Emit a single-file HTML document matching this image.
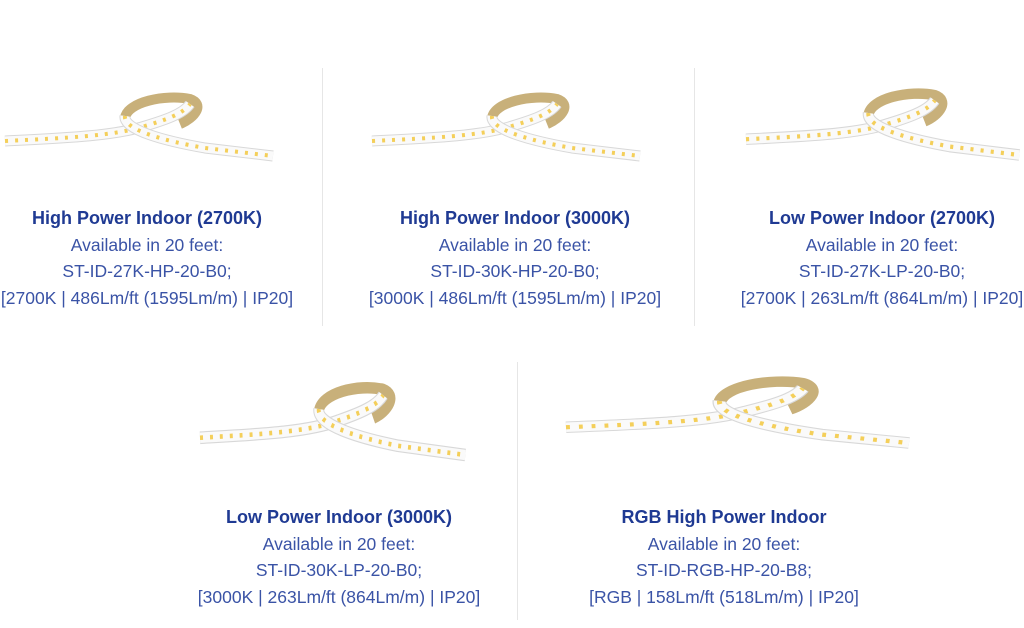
<!DOCTYPE html>
<html><head><meta charset="utf-8"><style>
html,body{margin:0;padding:0;background:#fff;}
body{width:1024px;height:628px;position:relative;overflow:hidden;font-family:"Liberation Sans",sans-serif;}
.vl{position:absolute;width:1px;background:#e6e6e6;}
.blk{position:absolute;width:400px;text-align:center;color:#3a53a6;font-size:17.5px;line-height:26.7px;}
.blk b{color:#1f3a93;font-size:18px;}
svg{position:absolute;left:0;top:0;}
</style></head><body>
<div class="vl" style="left:322px;top:68px;height:258px"></div>
<div class="vl" style="left:694px;top:68px;height:258px"></div>
<div class="vl" style="left:517px;top:362px;height:258px"></div>

<svg width="1024" height="628">
<defs>
<g id="strip">
 <path d="M120,22 C122,6 160,-2 185,3 C200,8 190,22 175,28" fill="none" stroke="#c8b07a" stroke-width="10"/>
 <path d="M0,45 C60,42 110,40 140,30 C160,24 178,18 185,8" fill="none" stroke="#d8d8d8" stroke-width="11"/>
 <path d="M0,45 C60,42 110,40 140,30 C160,24 178,18 185,8" fill="none" stroke="#fafafa" stroke-width="9"/>
 <path d="M0,45 C60,42 110,40 140,30 C160,24 178,18 185,8" fill="none" stroke="#f4cf5a" stroke-width="4" stroke-dasharray="3 7"/>
 <path d="M120,20 C118,34 160,45 200,52 L268,60" fill="none" stroke="#d8d8d8" stroke-width="11"/>
 <path d="M120,20 C118,34 160,45 200,52 L268,60" fill="none" stroke="#fafafa" stroke-width="9"/>
 <path d="M120,20 C118,34 160,45 200,52 L268,60" fill="none" stroke="#f4cf5a" stroke-width="4" stroke-dasharray="3 7"/>
</g>
</defs>
<use href="#strip" transform="translate(5,96)"/>
<use href="#strip" transform="translate(372,96)"/>
<use href="#strip" transform="translate(746,92) scale(1.02,1.05)"/>
<use href="#strip" transform="translate(200,386) scale(0.99,1.15)"/>
<use href="#strip" transform="translate(566,380) scale(1.28,1.05)"/>
</svg>

<div class="blk" style="left:-53px;top:205px"><b>High Power Indoor (2700K)</b><br>Available in 20 feet:<br>ST-ID-27K-HP-20-B0;<br>[2700K | 486Lm/ft (1595Lm/m) | IP20]</div>
<div class="blk" style="left:315px;top:205px"><b>High Power Indoor (3000K)</b><br>Available in 20 feet:<br>ST-ID-30K-HP-20-B0;<br>[3000K | 486Lm/ft (1595Lm/m) | IP20]</div>
<div class="blk" style="left:682px;top:205px"><b>Low Power Indoor (2700K)</b><br>Available in 20 feet:<br>ST-ID-27K-LP-20-B0;<br>[2700K | 263Lm/ft (864Lm/m) | IP20]</div>
<div class="blk" style="left:139px;top:504px"><b>Low Power Indoor (3000K)</b><br>Available in 20 feet:<br>ST-ID-30K-LP-20-B0;<br>[3000K | 263Lm/ft (864Lm/m) | IP20]</div>
<div class="blk" style="left:524px;top:504px"><b>RGB High Power Indoor</b><br>Available in 20 feet:<br>ST-ID-RGB-HP-20-B8;<br>[RGB | 158Lm/ft (518Lm/m) | IP20]</div>
</body></html>
